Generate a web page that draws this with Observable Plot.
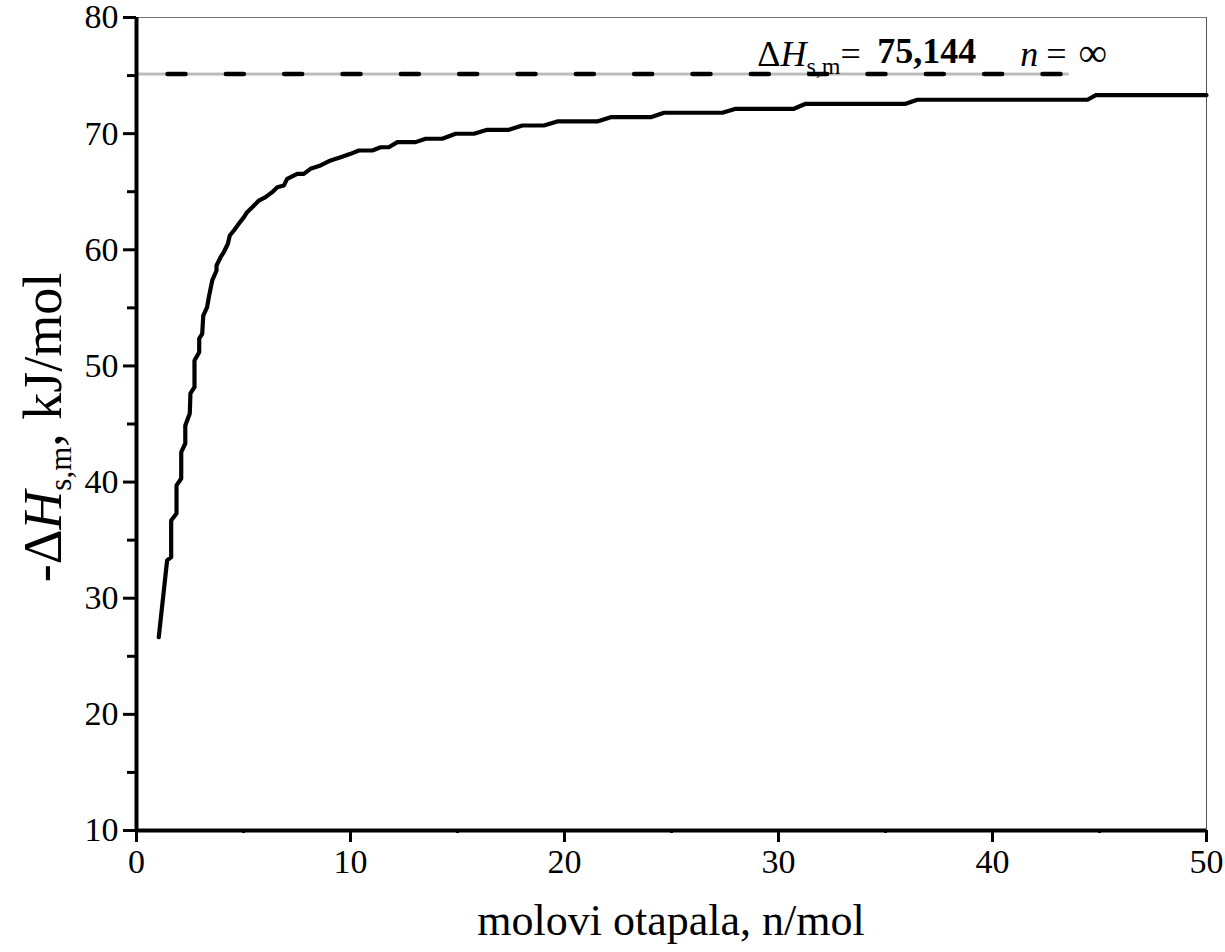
<!DOCTYPE html>
<html><head><meta charset="utf-8">
<script src="https://cdn.jsdelivr.net/npm/d3@7"></script>
<script src="https://cdn.jsdelivr.net/npm/@observablehq/plot@0.6"></script>
<style>body{margin:0;background:#fff}</style>
</head><body><div id="chart"></div>
<script>
// Data
const nMol = [1.04, 1.43, 1.62, 1.62, 1.87, 1.87, 2.09, 2.09, 2.28, 2.28, 2.49, 2.52, 2.71, 2.71, 2.93, 2.93, 3.07, 3.12, 3.30, 3.38, 3.54, 3.74, 3.74, 3.93, 4.08, 4.27, 4.36, 4.55, 4.78, 5.02, 5.17, 5.41, 5.72, 6.03, 6.34, 6.58, 6.89, 7.04, 7.51, 7.82, 8.13, 8.60, 9.07, 9.54, 10.00, 10.39, 11.02, 11.41, 11.79, 12.19, 13.04, 13.51, 14.29, 14.91, 15.77, 16.39, 17.40, 18.03, 19.04, 19.66, 21.53, 22.16, 24.03, 24.65, 27.38, 28.00, 30.72, 31.27, 35.94, 36.49, 44.44, 44.83, 50.0];
const dHsm = [26.64, 33.25, 33.53, 36.69, 37.29, 39.71, 40.31, 42.57, 43.32, 44.87, 45.90, 47.63, 48.17, 50.47, 51.18, 52.36, 52.77, 54.34, 55.06, 55.92, 57.36, 58.22, 58.65, 59.36, 59.79, 60.52, 61.23, 61.66, 62.24, 62.81, 63.24, 63.67, 64.24, 64.53, 64.96, 65.39, 65.54, 66.11, 66.54, 66.54, 66.97, 67.26, 67.69, 67.97, 68.26, 68.55, 68.55, 68.83, 68.83, 69.27, 69.27, 69.56, 69.56, 69.99, 69.99, 70.33, 70.33, 70.70, 70.70, 71.05, 71.05, 71.42, 71.42, 71.80, 71.80, 72.14, 72.14, 72.57, 72.57, 72.92, 72.92, 73.31, 73.31];
const limitValue = 75.144;
const limitX = [0, 43.52];
const xMajor = [0, 10, 20, 30, 40, 50];
const xMinor = [5, 15, 25, 35, 45];
const yMajor = [10, 20, 30, 40, 50, 60, 70, 80];
const yMinor = [15, 25, 35, 45, 55, 65, 75];
const xTitle = "molovi otapala, n/mol";
const annotX = [29.03, 34.64, 41.32];
const annotY = [75.74, 76.04, 75.74];

const curve = nMol.map((x, i) => ({x, y: dHsm[i]}));
const limitLine = limitX.map(x => ({x, y: limitValue}));
const serif = "'Liberation Serif', 'Times New Roman', serif";

const chart = Plot.plot({
  width: 1225, height: 952,
  marginLeft: 136, marginRight: 19, marginTop: 17, marginBottom: 122,
  x: {domain: [0, 50]},
  y: {domain: [10, 80]},
  style: {fontFamily: serif, fontSize: "34px", color: "#000", background: "#fff"},
  marks: [
    Plot.ruleY([80], {stroke: "#777", strokeWidth: 1}),
    Plot.ruleX([50], {stroke: "#555", strokeWidth: 1}),
    Plot.line(limitLine, {x: "x", y: "y", stroke: "#bbb", strokeWidth: 3, strokeDasharray: "1,1.5"}),
    Plot.line(limitLine, {x: "x", y: "y", stroke: "#000", strokeWidth: 4.5, strokeDasharray: "18,40.33", strokeDashoffset: 27.3}),
    Plot.line(curve, {x: "x", y: "y", stroke: "#000", strokeWidth: 4.2}),
    Plot.axisX({ticks: xMajor, tickSize: 12, tickPadding: 6, strokeWidth: 3, label: null, tickFormat: d => String(d)}),
    Plot.axisX({ticks: xMinor, tickSize: 3, strokeWidth: 3, text: null, label: null}),
    Plot.axisY({ticks: yMajor, tickSize: 13, tickPadding: 5, strokeWidth: 3, label: null, tickFormat: d => String(d)}),
    Plot.axisY({ticks: yMinor, tickSize: 9, strokeWidth: 3, text: null, label: null}),
    Plot.ruleX([0], {stroke: "#000", strokeWidth: 4}),
    Plot.ruleY([10], {stroke: "#000", strokeWidth: 4})
  ]
});

const svg = d3.select(chart);
const sx = chart.scale("x"), sy = chart.scale("y");

// x title
svg.append("text")
  .attr("x", (sx.apply(0) + sx.apply(50)) / 2).attr("y", 935)
  .attr("text-anchor", "middle").attr("font-family", serif).attr("font-size", 44).attr("fill", "#000")
  .text(xTitle);

// y title
const yt = svg.append("text")
  .attr("transform", `translate(61,${(sy.apply(10) + sy.apply(80)) / 2 + 4}) rotate(-90)`)
  .attr("text-anchor", "middle").attr("font-family", serif).attr("font-size", 54).attr("fill", "#000");
yt.append("tspan").text("-Δ");
yt.append("tspan").attr("font-style", "italic").text("H");
yt.append("tspan").attr("font-size", 31).attr("dy", 10).text("s,m");
yt.append("tspan").attr("dy", -10).text(", kJ/mol");

// annotation
const a1 = svg.append("text").attr("x", sx.apply(annotX[0])).attr("y", sy.apply(annotY[0]))
  .attr("text-anchor", "start").attr("font-family", serif).attr("font-size", 36).attr("fill", "#000");
a1.append("tspan").text("Δ");
a1.append("tspan").attr("font-style", "italic").text("H");
a1.append("tspan").attr("font-size", 24).attr("dy", 8).text("s,m");
a1.append("tspan").attr("dy", -8).text("=");
svg.append("text").attr("x", sx.apply(annotX[1])).attr("y", sy.apply(annotY[1]))
  .attr("text-anchor", "start").attr("font-family", serif).attr("font-size", 36).attr("font-weight", "bold").attr("fill", "#000")
  .text("75,144");
const a3 = svg.append("text").attr("x", sx.apply(annotX[2])).attr("y", sy.apply(annotY[2]))
  .attr("text-anchor", "start").attr("font-family", serif).attr("font-size", 36).attr("fill", "#000");
a3.append("tspan").attr("font-style", "italic").text("n");
a3.append("tspan").attr("dx", 8).text("=");
a3.append("tspan").attr("dx", 12).attr("font-size", 40).text("∞");

document.getElementById("chart").appendChild(chart);
</script>
</body></html>
